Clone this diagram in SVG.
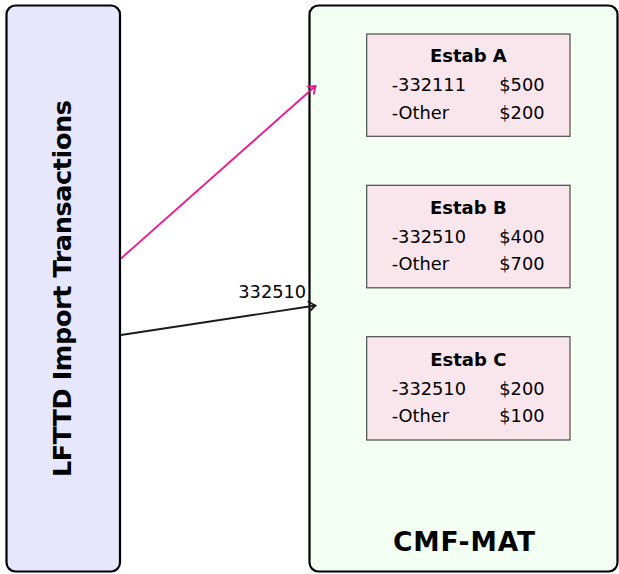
<svg xmlns="http://www.w3.org/2000/svg" width="619" height="574" viewBox="0 0 619 574">
  <style>
    .panel { stroke: #000; stroke-width: 2.2; }
    .estab { fill: #f9e6ec; stroke: #4d4d4d; stroke-width: 1.2; }
    .title { font-family: "DejaVu Sans", sans-serif; font-weight: bold; font-size: 18px; fill: #000; text-anchor: middle; }
    .row { font-family: "DejaVu Sans", sans-serif; font-size: 17.8px; fill: #000; }
    .big { font-family: "DejaVu Sans", sans-serif; font-weight: bold; fill: #000; text-anchor: middle; }
    .link { fill: none; stroke-width: 1.8; }
  </style>
  <defs>
    <marker id="head-pink" markerUnits="userSpaceOnUse" viewBox="-8 -6 10 12" markerWidth="10" markerHeight="12" refX="0" refY="0" orient="auto">
      <path d="M -6.5,-4.8 Q -1.5,-1 0,0 Q -1.5,1 -6.5,4.8" fill="none" stroke="#f0148c" stroke-width="1.8" stroke-linecap="round"/>
    </marker>
    <marker id="head-black" markerUnits="userSpaceOnUse" viewBox="-8 -6 10 12" markerWidth="10" markerHeight="12" refX="0" refY="0" orient="auto">
      <path d="M -6.5,-4.8 Q -1.5,-1 0,0 Q -1.5,1 -6.5,4.8" fill="none" stroke="#1a1a1a" stroke-width="1.8" stroke-linecap="round"/>
    </marker>
  </defs>

  <!-- source panel -->
  <g id="lfttd">
    <rect class="panel" x="6.5" y="5.5" width="113.5" height="566" rx="9" fill="#e6e6fd"/>
    <text class="big" font-size="25.5" transform="translate(71 288.5) rotate(-90)" textLength="377" lengthAdjust="spacing">LFTTD Import Transactions</text>
  </g>

  <!-- target panel -->
  <g id="cmf-mat">
    <rect class="panel" x="309.5" y="5.5" width="308" height="566" rx="9" fill="#f2fff2"/>
    <text class="big" font-size="26.5" x="464" y="550.7" textLength="142" lengthAdjust="spacing">CMF-MAT</text>
  </g>

  <g id="estab-a">
    <rect class="estab" x="366.7" y="34" width="203.3" height="102.3"/>
    <text class="title" x="468.3" y="62.3">Estab A</text>
    <text class="row" x="391.7" y="91.3">-332111</text>
    <text class="row" x="499.3" y="91.3">$500</text>
    <text class="row" x="391.7" y="118.7">-Other</text>
    <text class="row" x="499.3" y="118.7">$200</text>
  </g>

  <g id="estab-b">
    <rect class="estab" x="366.7" y="185.3" width="203.3" height="102.5"/>
    <text class="title" x="468.3" y="213.6">Estab B</text>
    <text class="row" x="391.7" y="242.6">-332510</text>
    <text class="row" x="499.3" y="242.6">$400</text>
    <text class="row" x="391.7" y="270">-Other</text>
    <text class="row" x="499.3" y="270">$700</text>
  </g>

  <g id="estab-c">
    <rect class="estab" x="366.7" y="336.7" width="203.3" height="103.3"/>
    <text class="title" x="468.3" y="365.5">Estab C</text>
    <text class="row" x="391.7" y="394.5">-332510</text>
    <text class="row" x="499.3" y="394.5">$200</text>
    <text class="row" x="391.7" y="421.6">-Other</text>
    <text class="row" x="499.3" y="421.6">$100</text>
  </g>

  <!-- connectors -->
  <g id="connectors">
    <line class="link" x1="121" y1="258.5" x2="315.5" y2="86" stroke="#f0148c" marker-end="url(#head-pink)"/>
    <line class="link" x1="121" y1="335" x2="315.5" y2="305.5" stroke="#1a1a1a" marker-end="url(#head-black)"/>
    <text class="row" x="238.3" y="297.7" font-size="17.5">332510</text>
  </g>
</svg>
